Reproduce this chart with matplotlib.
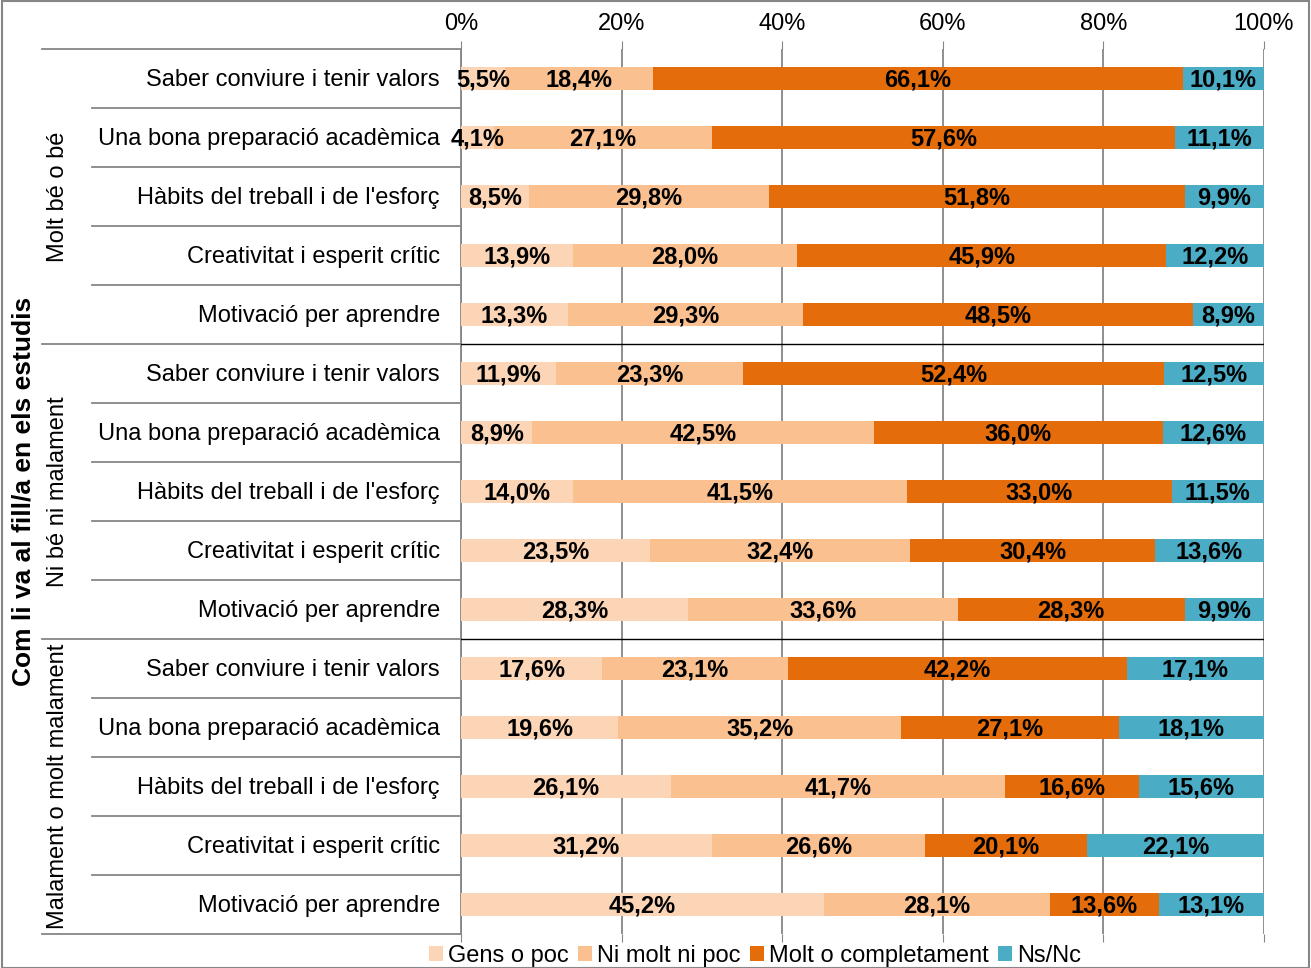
import matplotlib
matplotlib.use("Agg")
import matplotlib.pyplot as plt
import numpy as np
from matplotlib.transforms import blended_transform_factory
from matplotlib.patches import Rectangle
from matplotlib.lines import Line2D

plt.rcParams['font.family'] = ['Liberation Sans', 'DejaVu Sans']

groups = ["Molt bé o bé", "Ni bé ni malament", "Malament o molt malament"]
items = ["Saber conviure i tenir valors", "Una bona preparació acadèmica",
         "Hàbits del treball i de l'esforç", "Creativitat i esperit crític",
         "Motivació per aprendre"]
series = ["Gens o poc", "Ni molt ni poc", "Molt o completament", "Ns/Nc"]
colors = ["#FBD5B5", "#FAC090", "#E46C0A", "#4BACC6"]

gens = [5.5, 4.1, 8.5, 13.9, 13.3,
        11.9, 8.9, 14.0, 23.5, 28.3,
        17.6, 19.6, 26.1, 31.2, 45.2]
ni = [18.4, 27.1, 29.8, 28.0, 29.3,
      23.3, 42.5, 41.5, 32.4, 33.6,
      23.1, 35.2, 41.7, 26.6, 28.1]
molt = [66.1, 57.6, 51.8, 45.9, 48.5,
        52.4, 36.0, 33.0, 30.4, 28.3,
        42.2, 27.1, 16.6, 20.1, 13.6]
nsnc = [10.1, 11.1, 9.9, 12.2, 8.9,
        12.5, 12.6, 11.5, 13.6, 9.9,
        17.1, 18.1, 15.6, 22.1, 13.1]
xticks = [0, 20, 40, 60, 80, 100]
title = "Com li va al fill/a en els estudis"

W, H = 1311, 968
fig = plt.figure(figsize=(W/100, H/100), dpi=100)
L, R, T, B = 461, 1264, 49, 934
ax = fig.add_axes([L/W, 1-B/H, (R-L)/W, (B-T)/H])

vals = np.array([gens, ni, molt, nsnc])
totals = vals.sum(axis=0)
pct = vals / totals * 100
n = vals.shape[1]
y = np.arange(n)
left = np.zeros(n)
FS = 17
for k in range(4):
    ax.barh(y, pct[k], left=left, height=0.4, color=colors[k], label=series[k], zorder=3)
    for i in range(n):
        txt = f"{vals[k, i]:.1f}%".replace('.', ',')
        ax.text(left[i] + pct[k, i]/2, y[i] + 0.03, txt, ha='center', va='center',
                fontsize=FS, fontweight='bold', color='black', zorder=4)
    left += pct[k]

ax.set_xlim(0, 100)
ax.set_ylim(n-0.5, -0.5)
ax.xaxis.tick_top()
ax.set_xticks(xticks)
ax.set_xticklabels([f"{t}%" for t in xticks], fontsize=FS)
ax.tick_params(axis='x', which='both', length=6, color='#868686', pad=4, top=True, bottom=True)
ax.set_yticks([])
ax.grid(axis='x', color='#868686', linewidth=1.3, zorder=0)
for s in ['top', 'right', 'bottom']:
    ax.spines[s].set_visible(False)
ax.spines['left'].set_color('#868686')
ax.spines['left'].set_linewidth(1.3)

# group separators inside plot
for g in [5, 10]:
    ax.axhline(g-0.5, color='black', linewidth=1.0, zorder=5)

tr = blended_transform_factory(ax.transAxes, ax.transData)
x_item = (92-L)/(R-L)
x_group = (42-L)/(R-L)
lc = '#868686'
for i in range(n+1):
    yy = i - 0.5
    x0 = x_group if i % 5 == 0 else x_item
    ax.add_line(Line2D([x0, 0], [yy, yy], transform=tr, color=lc, linewidth=1.3, clip_on=False))

for i, lab in enumerate(items * 3):
    ax.text(-(21)/(R-L), i + 0.03, lab, transform=tr, ha='right', va='center', fontsize=FS)

for g, gl in enumerate(groups):
    ax.text((58-L)/(R-L), g*5+2, gl, transform=tr, ha='center', va='center',
            rotation=90, fontsize=FS)

fig.text(24/W, 1-491/H, title, rotation=90, ha='center', va='center',
         fontsize=19, fontweight='bold')

leg = ax.legend(loc='center', bbox_to_anchor=(755/W, 1-956/H), bbox_transform=fig.transFigure,
                ncol=4, frameon=False, fontsize=FS, handlelength=0.6, handleheight=0.6,
                handletextpad=0.2, columnspacing=0.4, borderaxespad=0)

fig.patches.append(Rectangle((2/W, 0), (W-4)/W, 1-1/H, transform=fig.transFigure,
                             fill=False, edgecolor='#868686', linewidth=1.5))

fig.savefig("out.png", dpi=100)
